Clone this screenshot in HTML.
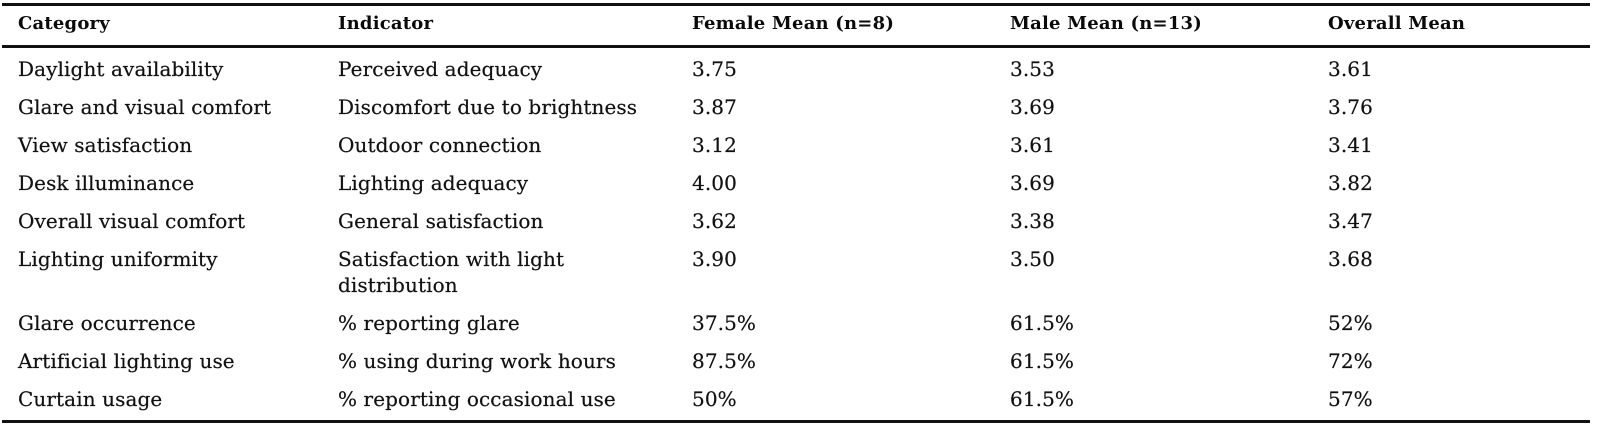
<!DOCTYPE html>
<html>
<head>
<meta charset="utf-8">
<style>
  html, body { margin:0; padding:0; background:#fff; }
  body { width:1600px; height:436px; position:relative; overflow:hidden;
         font-family:"DejaVu Serif","Liberation Serif",serif; color:#111; }
  .t { position:absolute; white-space:nowrap; font-size:20px; line-height:20px; letter-spacing:0.1px; -webkit-text-stroke:0.2px #111; }
  .h { font-weight:bold; font-size:18px; line-height:18px; letter-spacing:0.2px; color:#0a0a0a; -webkit-text-stroke:0; }
  .rule { position:absolute; left:2px; width:1588px; background:#111; }
</style>
</head>
<body>
<div class="rule" style="top:3px;height:3px;"></div>
<div class="rule" style="top:45px;height:3px;"></div>
<div class="rule" style="top:420px;height:3px;"></div>

<!-- header baseline 30 -->
<div class="t h" style="left:18px;top:15px;">Category</div>
<div class="t h" style="left:338px;top:15px;">Indicator</div>
<div class="t h" style="left:692px;top:15px;">Female Mean (n=8)</div>
<div class="t h" style="left:1010px;top:15px;">Male Mean (n=13)</div>
<div class="t h" style="left:1328px;top:15px;">Overall Mean</div>

<!-- row 1 baseline 76 -->
<div class="t" style="left:18px;top:59px;">Daylight availability</div>
<div class="t" style="left:338px;top:59px;">Perceived adequacy</div>
<div class="t" style="left:692px;top:59px;">3.75</div>
<div class="t" style="left:1010px;top:59px;">3.53</div>
<div class="t" style="left:1328px;top:59px;">3.61</div>

<!-- row 2 baseline 114 -->
<div class="t" style="left:18px;top:97px;">Glare and visual comfort</div>
<div class="t" style="left:338px;top:97px;">Discomfort due to brightness</div>
<div class="t" style="left:692px;top:97px;">3.87</div>
<div class="t" style="left:1010px;top:97px;">3.69</div>
<div class="t" style="left:1328px;top:97px;">3.76</div>

<!-- row 3 baseline 152 -->
<div class="t" style="left:18px;top:135px;">View satisfaction</div>
<div class="t" style="left:338px;top:135px;">Outdoor connection</div>
<div class="t" style="left:692px;top:135px;">3.12</div>
<div class="t" style="left:1010px;top:135px;">3.61</div>
<div class="t" style="left:1328px;top:135px;">3.41</div>

<!-- row 4 baseline 190 -->
<div class="t" style="left:18px;top:173px;">Desk illuminance</div>
<div class="t" style="left:338px;top:173px;">Lighting adequacy</div>
<div class="t" style="left:692px;top:173px;">4.00</div>
<div class="t" style="left:1010px;top:173px;">3.69</div>
<div class="t" style="left:1328px;top:173px;">3.82</div>

<!-- row 5 baseline 228 -->
<div class="t" style="left:18px;top:211px;">Overall visual comfort</div>
<div class="t" style="left:338px;top:211px;">General satisfaction</div>
<div class="t" style="left:692px;top:211px;">3.62</div>
<div class="t" style="left:1010px;top:211px;">3.38</div>
<div class="t" style="left:1328px;top:211px;">3.47</div>

<!-- row 6 baseline 266 / 292 -->
<div class="t" style="left:18px;top:249px;">Lighting uniformity</div>
<div class="t" style="left:338px;top:249px;">Satisfaction with light</div>
<div class="t" style="left:338px;top:275px;">distribution</div>
<div class="t" style="left:692px;top:249px;">3.90</div>
<div class="t" style="left:1010px;top:249px;">3.50</div>
<div class="t" style="left:1328px;top:249px;">3.68</div>

<!-- row 7 baseline 330 -->
<div class="t" style="left:18px;top:313px;">Glare occurrence</div>
<div class="t" style="left:338px;top:313px;">% reporting glare</div>
<div class="t" style="left:692px;top:313px;">37.5%</div>
<div class="t" style="left:1010px;top:313px;">61.5%</div>
<div class="t" style="left:1328px;top:313px;">52%</div>

<!-- row 8 baseline 368 -->
<div class="t" style="left:18px;top:351px;">Artificial lighting use</div>
<div class="t" style="left:338px;top:351px;">% using during work hours</div>
<div class="t" style="left:692px;top:351px;">87.5%</div>
<div class="t" style="left:1010px;top:351px;">61.5%</div>
<div class="t" style="left:1328px;top:351px;">72%</div>

<!-- row 9 baseline 406 -->
<div class="t" style="left:18px;top:389px;">Curtain usage</div>
<div class="t" style="left:338px;top:389px;">% reporting occasional use</div>
<div class="t" style="left:692px;top:389px;">50%</div>
<div class="t" style="left:1010px;top:389px;">61.5%</div>
<div class="t" style="left:1328px;top:389px;">57%</div>
</body>
</html>
